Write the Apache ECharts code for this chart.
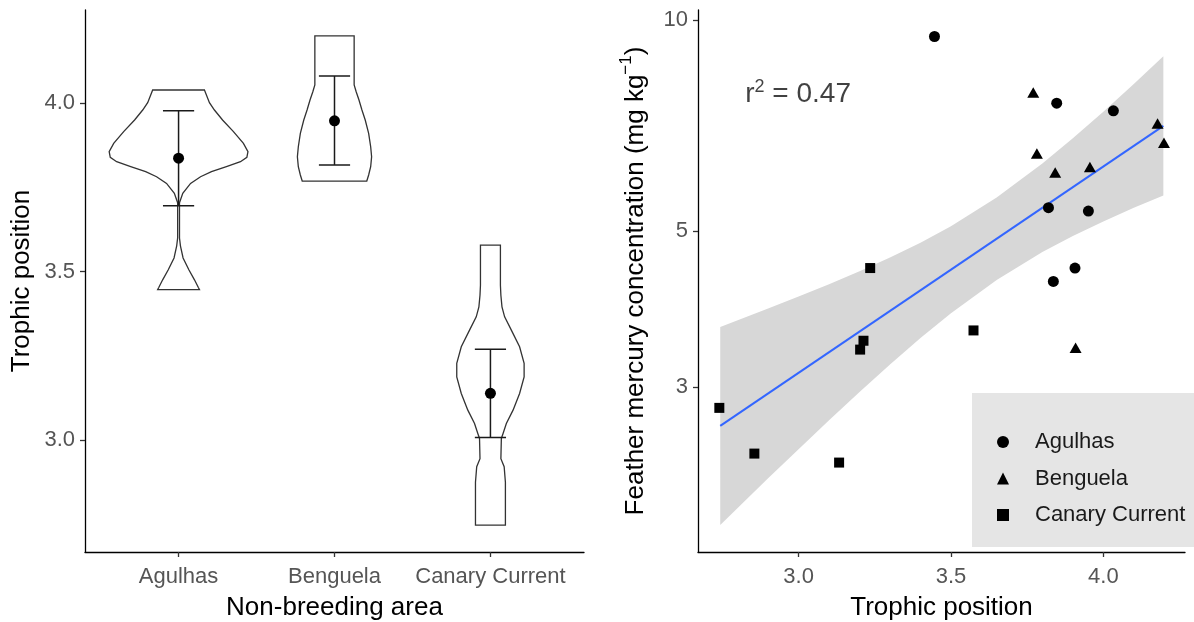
<!DOCTYPE html>
<html><head><meta charset="utf-8">
<script src="https://cdn.jsdelivr.net/npm/echarts@6/dist/echarts.min.js"></script>
<style>html,body{margin:0;padding:0;background:#fff}#c{width:1194px;height:622px}</style>
</head><body><div id="c"></div>
<script>
// ---------- Left panel: trophic position by non-breeding area ----------
const areas = ['Agulhas', 'Benguela', 'Canary Current'];
// violin outlines: [trophic position, half-width in category units]
const violinAgulhas = [[4.0395,0.166],[4.0019,0.198],[3.9801,0.230],[3.9504,0.282],[3.9158,0.352],[3.8811,0.416],[3.8564,0.445],[3.8396,0.438],[3.8267,0.397],[3.8118,0.307],[3.7970,0.211],[3.7821,0.141],[3.7623,0.077],[3.7326,0.027],[3.7049,0.006],[3.6000,0.006],[3.5770,0.012],[3.5410,0.029],[3.5060,0.066],[3.4760,0.102],[3.4530,0.127],[3.4470,0.134]];
const violinBenguela = [[4.1999,0.126],[4.0544,0.126],[4.0345,0.139],[4.0098,0.157],[3.9801,0.176],[3.9504,0.197],[3.9109,0.219],[3.8711,0.232],[3.8414,0.238],[3.8117,0.232],[3.7871,0.219],[3.7692,0.207]];
const violinCanary = [[3.5792,0.064],[3.4600,0.064],[3.4300,0.067],[3.3958,0.074],[3.3662,0.091],[3.3267,0.134],[3.2771,0.187],[3.2278,0.216],[3.1880,0.216],[3.1387,0.187],[3.0891,0.145],[3.0496,0.102],[3.0199,0.081],[3.0050,0.070],[2.9450,0.067],[2.9210,0.088],[2.8750,0.096],[2.7475,0.096]];
const tpMean  = [3.837, 3.948, 3.139];
const tpLower = [3.696, 3.817, 3.008];
const tpUpper = [3.978, 4.081, 3.270];
const leftYTicks = [3.0, 3.5, 4.0];

// ---------- Right panel: feather Hg vs trophic position ----------
const agulhasTP = [3.446, 3.847, 4.033, 3.820, 3.951, 3.907, 3.836];
const agulhasHg = [9.47, 7.61, 7.42, 5.40, 5.34, 4.43, 4.24];
const benguelaTP = [3.770, 4.178, 4.199, 3.782, 3.842, 3.956, 3.909];
const benguelaHg = [7.88, 7.12, 6.68, 6.45, 6.06, 6.17, 3.41];
const canaryTP = [3.235, 3.574, 3.213, 3.202, 2.740, 2.855, 3.133];
const canaryHg = [4.43, 3.61, 3.49, 3.39, 2.80, 2.41, 2.34];
const fitTP = [2.743, 4.197];
const fitHg = [2.639, 7.063];
const bandTP = [2.743, 2.9, 3.0, 3.1, 3.2, 3.3, 3.4, 3.5, 3.65, 3.8, 3.9, 4.0, 4.1, 4.197];
const bandLo = [1.907, 2.222, 2.445, 2.688, 2.949, 3.228, 3.521, 3.818, 4.258, 4.668, 4.920, 5.163, 5.398, 5.622];
const bandHi = [3.652, 3.878, 4.034, 4.202, 4.384, 4.585, 4.815, 5.083, 5.582, 6.242, 6.781, 7.400, 8.102, 8.872];
const rightXTicks = [3.0, 3.5, 4.0];
const rightYTicks = [3, 5, 10];
const r2Value = '0.47';
const r2Pos = [2.825, 7.86];

const FONT = 'Liberation Sans, Arial, sans-serif';
const violins = [violinAgulhas, violinBenguela, violinCanary];
const zip = (a, b) => a.map((v, i) => [v, b[i]]);
const solid = { color: '#000', opacity: 1 };

const axisCommon = {
  axisLine: { show: true, onZero: false, lineStyle: { color: '#000', width: 1.3 } },
  splitLine: { show: false },
  nameTextStyle: { fontSize: 26, color: '#000', fontFamily: FONT },
  nameLocation: 'middle'
};
function tickCfg(vals) {
  return { show: true, length: 5, inside: false, customValues: vals, lineStyle: { color: '#333', width: 1.3 } };
}
function labelCfg(vals, margin, fmt) {
  return { show: true, customValues: vals, margin: margin, color: '#555', fontSize: 22, fontFamily: FONT, formatter: fmt };
}

const chart = echarts.init(document.getElementById('c'), null, { renderer: 'canvas' });
chart.setOption({
  animation: false,
  backgroundColor: '#fff',
  textStyle: { fontFamily: FONT },
  grid: [
    { left: 85, top: 10, width: 499, height: 542, outerBoundsMode: 'none' },
    { left: 698, top: 10, width: 487, height: 542, outerBoundsMode: 'none' }
  ],
  xAxis: [
    Object.assign({}, axisCommon, {
      gridIndex: 0, type: 'value', min: -0.6, max: 2.6,
      name: 'Non-breeding area', nameGap: 43,
      axisTick: tickCfg([0, 1, 2]),
      axisLabel: labelCfg([0, 1, 2], 14, v => areas[Math.round(v)])
    }),
    Object.assign({}, axisCommon, {
      gridIndex: 1, type: 'value', min: 2.670, max: 4.268,
      name: 'Trophic position', nameGap: 43,
      axisTick: tickCfg(rightXTicks),
      axisLabel: labelCfg(rightXTicks, 14, v => Number(v).toFixed(1))
    })
  ],
  yAxis: [
    Object.assign({}, axisCommon, {
      gridIndex: 0, type: 'value', min: 2.668, max: 4.277,
      name: 'Trophic position', nameGap: 50,
      axisTick: tickCfg(leftYTicks),
      axisLabel: labelCfg(leftYTicks, 10, v => Number(v).toFixed(1))
    }),
    Object.assign({}, axisCommon, {
      gridIndex: 1, type: 'log', logBase: 10, min: 1.745, max: 10.33,
      name: '{m|Feather mercury concentration (mg kg}{s|\u22121}{m|)}', nameGap: 49,
      nameTextStyle: {
        fontSize: 26, color: '#000', fontFamily: FONT,
        rich: {
          m: { fontSize: 26, color: '#000', fontFamily: FONT, verticalAlign: 'bottom' },
          s: { fontSize: 17, color: '#000', fontFamily: FONT, verticalAlign: 'top', padding: [0, 0, 14, 0] }
        }
      },
      axisTick: tickCfg(rightYTicks),
      axisLabel: labelCfg(rightYTicks, 10, v => String(Math.round(v)))
    })
  ],
  legend: {
    data: ['Agulhas', 'Benguela', 'Canary Current'],
    orient: 'vertical', left: 972, top: 393,
    backgroundColor: '#e5e5e5', borderWidth: 0,
    padding: [38, 10, 21, 25],
    itemWidth: 12, itemHeight: 12, itemGap: 14.5,
    symbolKeepAspect: true,
    itemStyle: { opacity: 1 },
    formatter: name => '{t|' + name + '}',
    textStyle: {
      fontSize: 22, color: '#1a1a1a', fontFamily: FONT,
      rich: { t: { fontSize: 22, color: '#1a1a1a', fontFamily: FONT, padding: [0, 0, 0, 21] } }
    },
    selectedMode: false
  },
  series: [
    // violins
    {
      type: 'custom', xAxisIndex: 0, yAxisIndex: 0, clip: false, z: 2,
      data: tpMean.map((m, i) => [i, m]),
      renderItem: function (params, api) {
        const i = params.dataIndex;
        const prof = violins[i];
        const pts = [];
        for (let k = 0; k < prof.length; k++) pts.push(api.coord([i + prof[k][1], prof[k][0]]));
        for (let k = prof.length - 1; k >= 0; k--) pts.push(api.coord([i - prof[k][1], prof[k][0]]));
        return { type: 'polygon', shape: { points: pts }, style: { fill: '#fff', stroke: '#333', lineWidth: 1.3 } };
      }
    },
    // error bars
    {
      type: 'custom', xAxisIndex: 0, yAxisIndex: 0, clip: false, z: 3,
      data: tpMean.map((m, i) => [i, tpLower[i], tpUpper[i]]),
      renderItem: function (params, api) {
        const i = api.value(0), lo = api.value(1), hi = api.value(2);
        const pLo = api.coord([i, lo]), pHi = api.coord([i, hi]);
        const cl = api.coord([i - 0.1, lo]), cr = api.coord([i + 0.1, lo]);
        const tl = api.coord([i - 0.1, hi]), tr = api.coord([i + 0.1, hi]);
        const st = { stroke: '#1a1a1a', lineWidth: 1.5 };
        return { type: 'group', children: [
          { type: 'line', shape: { x1: pLo[0], y1: pLo[1], x2: pHi[0], y2: pHi[1] }, style: st },
          { type: 'line', shape: { x1: cl[0], y1: cl[1], x2: cr[0], y2: cr[1] }, style: st },
          { type: 'line', shape: { x1: tl[0], y1: tl[1], x2: tr[0], y2: tr[1] }, style: st }
        ] };
      }
    },
    // means
    {
      type: 'scatter', xAxisIndex: 0, yAxisIndex: 0, z: 4,
      symbol: 'circle', symbolSize: 11, itemStyle: solid,
      data: tpMean.map((m, i) => [i, m])
    },
    // confidence band
    {
      type: 'custom', xAxisIndex: 1, yAxisIndex: 1, z: 2,
      data: bandTP.map((x, i) => [x, bandLo[i], bandHi[i]]),
      encode: { x: 0, y: [1, 2] },
      renderItem: function (params, api) {
        if (params.dataIndex !== 0) return null;
        const pts = [];
        for (let k = 0; k < bandTP.length; k++) pts.push(api.coord([bandTP[k], bandHi[k]]));
        for (let k = bandTP.length - 1; k >= 0; k--) pts.push(api.coord([bandTP[k], bandLo[k]]));
        return { type: 'polygon', shape: { points: pts }, style: { fill: '#d7d7d7', stroke: null } };
      }
    },
    // regression line
    {
      type: 'line', xAxisIndex: 1, yAxisIndex: 1, z: 3,
      showSymbol: false, symbol: 'none',
      lineStyle: { color: '#3366FF', width: 2 },
      data: zip(fitTP, fitHg)
    },
    {
      name: 'Agulhas', type: 'scatter', xAxisIndex: 1, yAxisIndex: 1, z: 5,
      symbol: 'circle', symbolSize: 11, itemStyle: solid,
      data: zip(agulhasTP, agulhasHg)
    },
    {
      name: 'Benguela', type: 'scatter', xAxisIndex: 1, yAxisIndex: 1, z: 5,
      symbol: 'triangle', symbolSize: [12, 10.5], itemStyle: solid,
      data: zip(benguelaTP, benguelaHg)
    },
    {
      name: 'Canary Current', type: 'scatter', xAxisIndex: 1, yAxisIndex: 1, z: 5,
      symbol: 'rect', symbolSize: 10, itemStyle: solid,
      data: zip(canaryTP, canaryHg)
    },
    // r^2 annotation
    {
      type: 'scatter', xAxisIndex: 1, yAxisIndex: 1, z: 6,
      symbolSize: 0, silent: true,
      data: [r2Pos],
      label: {
        show: true, position: 'right', distance: 0,
        formatter: '{m|r}{s|2}{m| = ' + r2Value + '}',
        rich: {
          m: { fontSize: 28, color: '#111', fontFamily: FONT, verticalAlign: 'bottom' },
          s: { fontSize: 18, color: '#111', fontFamily: FONT, verticalAlign: 'top', padding: [0, 0, 12, 0] }
        }
      }
    }
  ]
});
</script>
</body></html>
